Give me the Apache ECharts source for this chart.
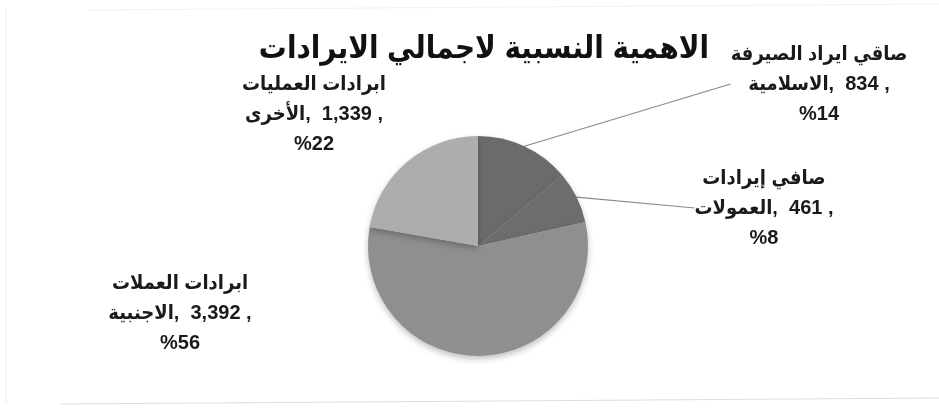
<!DOCTYPE html>
<html>
<head>
<meta charset="utf-8">
<script src="https://cdn.jsdelivr.net/npm/echarts@6/dist/echarts.min.js"></script>
<style>
html,body{margin:0;padding:0;background:#fff;}
#main{width:939px;height:412px;}
</style>
</head>
<body>
<div id="main"></div>
<script>
const titleText = 'الاهمية النسبية لاجمالي الايرادات';
const nameLine1 = ['صاقي ايراد الصيرفة', 'صافي إيرادات', 'ابرادات العملات', 'ابرادات العمليات'];
const nameLine2 = ['الاسلامية', 'العمولات', 'الاجنبية', 'الأخرى'];
const values = [834, 461, 3392, 1339];
const valueLabels = ['834', '461', '3,392', '1,339'];
const percents = [14, 8, 56, 22];
const sliceColors = ['#6b6b6b', '#6d6d6d', '#8f8f8f', '#adadad'];

const labelPos = [
  {x: 819, y: 84},
  {x: 764, y: 208},
  {x: 180, y: 313},
  {x: 314, y: 114}
];
const showLine = [true, true, false, false];

const chart = echarts.init(document.getElementById('main'), null, {renderer: 'canvas'});
const FONT = '"Liberation Sans", Arial, "DejaVu Sans Condensed", "DejaVu Sans", sans-serif';
const LRM = '\u200E';

const data = values.map((v, i) => ({
  value: v,
  name: nameLine1[i],
  itemStyle: {color: sliceColors[i]},
  labelLine: {show: showLine[i]}
}));

chart.setOption({
  backgroundColor: '#ffffff',
  animation: false,
  title: {
    text: titleText,
    left: 479,
    top: 29,
    textAlign: 'center',
    textStyle: {fontFamily: FONT, fontSize: 31, fontWeight: 'bold', color: '#111'}
  },
  series: [{
    type: 'pie',
    center: [478, 246],
    radius: 110,
    startAngle: 90,
    clockwise: true,
    data: data,
    itemStyle: {borderWidth: 0, shadowBlur: 6, shadowOffsetY: 3, shadowColor: 'rgba(0,0,0,0.25)'},
    label: {
      show: true,
      position: 'outside',
      formatter: function (p) {
        const i = p.dataIndex;
        return nameLine1[i] + '\n' + nameLine2[i] + LRM + ',  ' + valueLabels[i] + ' ,\n%' + percents[i];
      },
      fontFamily: FONT,
      fontSize: 20,
      fontWeight: 'bold',
      color: '#1a1a1a',
      lineHeight: 30,
      align: 'center'
    },
    labelLine: {show: true, lineStyle: {color: '#8a8a8a', width: 1.2}, length: 0, length2: 0},
    labelLayout: function (params) {
      const p = labelPos[params.dataIndex];
      return {x: p.x, y: p.y, align: 'center', verticalAlign: 'middle'};
    },
    emphasis: {disabled: true}
  }],
  graphic: [
    {type: 'line', shape: {x1: 6, y1: 8, x2: 6, y2: 404}, style: {stroke: '#eeeeee', lineWidth: 1}},
    {type: 'line', shape: {x1: 60, y1: 404, x2: 939, y2: 398}, style: {stroke: '#dddddd', lineWidth: 1}},
    {type: 'line', shape: {x1: 90, y1: 10, x2: 939, y2: 4}, style: {stroke: '#f0f0f0', lineWidth: 1}}
  ]
});
</script>
</body>
</html>
